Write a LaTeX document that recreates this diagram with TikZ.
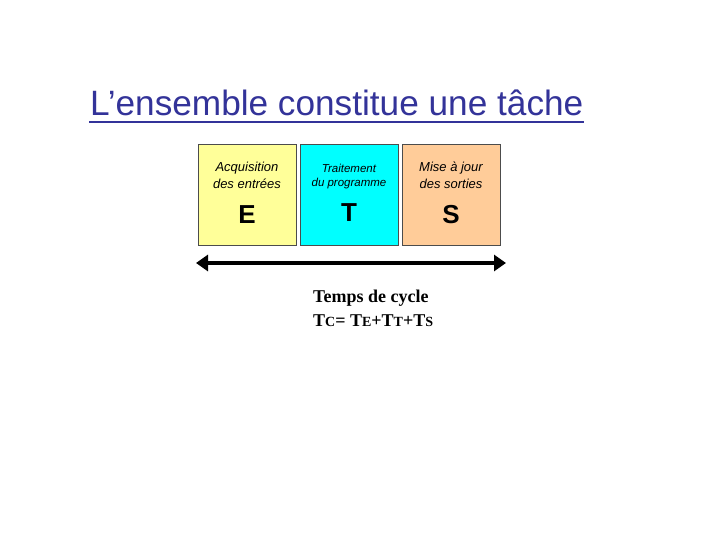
\documentclass[tikz,border=0pt]{standalone}
\usepackage{fontspec}
\setmainfont{Liberation Sans}
\newfontfamily\timesf{Liberation Serif}
\usetikzlibrary{arrows.meta}
\definecolor{titleblue}{RGB}{51,51,153}
\definecolor{boxyellow}{RGB}{255,255,153}
\definecolor{boxcyan}{RGB}{0,255,255}
\definecolor{boxpeach}{RGB}{255,204,153}
\begin{document}
\begin{tikzpicture}[x=1pt,y=-1pt,
  tbox/.style={draw=black!70,line width=0.8pt,minimum width=98pt,minimum height=101pt,anchor=north west,inner sep=0pt},
  small/.style={font=\fontsize{13}{15.5}\selectfont\itshape,align=center,anchor=base},
  smaller/.style={font=\fontsize{11.5}{14}\selectfont\itshape,align=center,anchor=base},
  big/.style={font=\fontsize{26}{30}\selectfont\bfseries,anchor=base},
  cyc/.style={font=\timesf\bfseries\fontsize{18}{20}\selectfont,anchor=base west,inner sep=0pt}]
\useasboundingbox[fill=white] (0,0) rectangle (720,540);
% title
\node[font=\fontsize{35.2}{40}\selectfont,text=titleblue,anchor=base west,inner sep=0pt] (title) at (90,116) {L’ensemble constitue une tâche};
\draw[titleblue,line width=1.8pt] (title.base west)++(-1,6) coordinate (ul1) -- (title.base east|-ul1) coordinate (ul2);
% boxes
\node[tbox,fill=boxyellow] (E) at (198,144) {};
\node[tbox,fill=boxcyan] (T) at (300,144) {};
\node[tbox,fill=boxpeach] (S) at (402,144) {};
\node[small] (e1) at (247,172) {Acquisition};
\node[small] (e2) at (247,189) {des entrées};
\node[big] (eL) at (247,223) {E};
\node[smaller] (t1) at (349,173) {Traitement};
\node[smaller] (t2) at (349,187) {du programme};
\node[big] (tL) at (349,222) {T};
\node[small] (s1) at (451,172) {Mise à jour};
\node[small] (s2) at (451,189) {des sorties};
\node[big] (sL) at (451,223) {S};
% arrow
\coordinate (a1) at (196,263);
\coordinate (a2) at (506,263);
\draw[line width=4pt,{Triangle[length=12pt,width=16pt]}-{Triangle[length=12pt,width=16pt]}] (a1) -- (a2);
% cycle time
\node[cyc] (c1) at (313,302) {Temps de cycle};
\node[cyc] (c2) at (313,326) {T{\fontsize{14}{15}\selectfont C}= T{\fontsize{14}{15}\selectfont E}+T{\fontsize{14}{15}\selectfont T}+T{\fontsize{14}{15}\selectfont S}};
\end{tikzpicture}
\end{document}
